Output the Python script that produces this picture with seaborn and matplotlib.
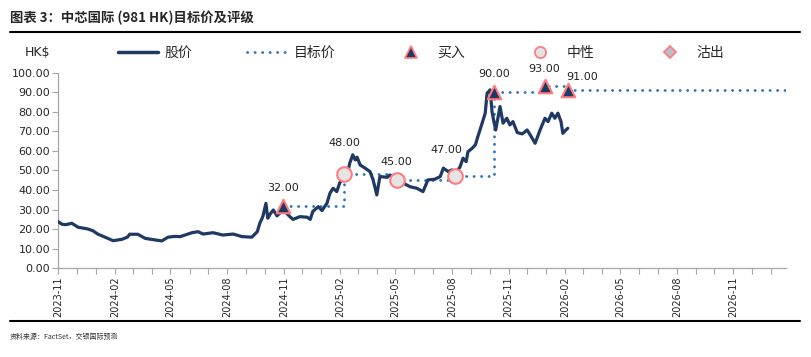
import pandas as pd
import numpy as np
from matplotlib import pyplot as plt
from matplotlib.lines import Line2D
import matplotlib.dates as mdates
import seaborn as sns

# share price (HK$)
price_dates = ['2023-11-01', '2023-11-07', '2023-11-13', '2023-11-23', '2023-12-03',
               '2023-12-19', '2023-12-27', '2024-01-04', '2024-01-16', '2024-01-29',
               '2024-02-12', '2024-02-21', '2024-02-25', '2024-03-09', '2024-03-21',
               '2024-04-06', '2024-04-17', '2024-04-27', '2024-05-08', '2024-05-17',
               '2024-06-05', '2024-06-15', '2024-06-23', '2024-07-09', '2024-07-25',
               '2024-08-11', '2024-08-25', '2024-09-10', '2024-09-19', '2024-09-23',
               '2024-09-28', '2024-10-03', '2024-10-06', '2024-10-10', '2024-10-15',
               '2024-10-21', '2024-10-31', '2024-11-11', '2024-11-16', '2024-11-27',
               '2024-12-09', '2024-12-14', '2024-12-18', '2024-12-27', '2025-01-02',
               '2025-01-10', '2025-01-15', '2025-01-20', '2025-01-26', '2025-01-31',
               '2025-02-05', '2025-02-12', '2025-02-16', '2025-02-21', '2025-02-25',
               '2025-02-28', '2025-03-05', '2025-03-13', '2025-03-21', '2025-03-26',
               '2025-04-01', '2025-04-06', '2025-04-18', '2025-04-22', '2025-05-04',
               '2025-05-14', '2025-05-25', '2025-06-05', '2025-06-15', '2025-06-23',
               '2025-07-04', '2025-07-13', '2025-07-18', '2025-07-26', '2025-08-01',
               '2025-08-06', '2025-08-14', '2025-08-19', '2025-08-24', '2025-08-27',
               '2025-09-03', '2025-09-08', '2025-09-12', '2025-09-19', '2025-09-24',
               '2025-09-27', '2025-10-02', '2025-10-05', '2025-10-08', '2025-10-11',
               '2025-10-15', '2025-10-18', '2025-10-23', '2025-10-29', '2025-11-03',
               '2025-11-08', '2025-11-15', '2025-11-23', '2025-12-01', '2025-12-06',
               '2025-12-14', '2025-12-22', '2025-12-30', '2026-01-04', '2026-01-10',
               '2026-01-15', '2026-01-20', '2026-01-25', '2026-01-28', '2026-02-02',
               '2026-02-05']
price_values = [23.8, 22.5, 22.3, 23.0, 21.0,
                20.1, 19.2, 17.5, 15.9, 14.1,
                14.8, 15.9, 17.4, 17.4, 15.3,
                14.5, 14.0, 15.9, 16.3, 16.2,
                18.2, 18.7, 17.5, 18.2, 17.0,
                17.5, 16.2, 15.9, 18.7, 23.0,
                26.4, 33.2, 25.6, 27.8, 29.8,
                26.8, 29.8, 26.4, 25.0, 26.4,
                26.1, 25.0, 29.0, 31.5, 29.5,
                33.2, 38.4, 40.9, 39.2, 43.8,
                46.0, 47.7, 53.7, 58.0, 55.4,
                56.8, 52.8, 51.2, 49.4, 45.2,
                37.5, 46.9, 46.5, 47.7, 46.0,
                43.5, 41.7, 40.9, 39.2, 45.2,
                45.5, 46.9, 51.2, 49.4, 50.3,
                48.6, 51.7, 56.3, 54.5, 59.6,
                61.4, 63.1, 67.3, 74.2, 79.3,
                89.5, 91.2, 80.1, 75.0, 70.7,
                77.5, 82.7, 74.2, 76.7, 73.3,
                75.0, 69.4, 68.7, 70.7, 68.2,
                63.9, 70.7, 76.7, 75.0, 79.3,
                76.7, 79.3, 75.0, 69.0, 70.7,
                71.6]

# target price changes and ratings
rating_dates = ['2024-10-31', '2025-02-07', '2025-05-03', '2025-08-06',
                '2025-10-08', '2025-12-30', '2026-02-06']
rating_targets = [32.0, 48.0, 45.0, 47.0, 90.0, 93.0, 91.0]
rating_types = ['买入', '中性', '中性', '中性', '买入', '买入', '买入']

axis_end = '2027-01-25'

# label offsets in pixels (layout only)
label_dx = [0, 0, 0, -9, 0, -1, 14]
label_dy = [18, 31, 18, 26, 18, 17, 13]

navy = '#1f3864'
blue = '#2e75b6'
pink = '#ff7c80'
spine_gray = '#a6a6a6'
dots = (0, (0.1, 2.6))

sns.set_style('white')
plt.rcParams['font.family'] = ['DejaVu Sans', 'Noto Sans CJK SC']
cjk = ['Noto Sans CJK SC', 'DejaVu Sans']

price = pd.DataFrame({'date': pd.to_datetime(price_dates), 'price': price_values})
ratings = pd.DataFrame({'date': pd.to_datetime(rating_dates),
                        'target': rating_targets, 'rating': rating_types})
# step line for target price, held to the end of the axis
target = pd.concat([ratings[['date', 'target']],
                    pd.DataFrame({'date': [pd.Timestamp(axis_end)],
                                  'target': [rating_targets[-1]]})],
                   ignore_index=True)

fig = plt.figure(figsize=(8.11, 3.57), dpi=100)
ax = fig.add_axes([0.0719, 0.2485, 0.8971, 0.5479])

sns.lineplot(data=target, x='date', y='target', ax=ax, color=blue, lw=2.0,
             drawstyle='steps-post', linestyle=dots,
             dash_capstyle='round', zorder=2)
sns.lineplot(data=price, x='date', y='price', ax=ax, color=navy, lw=2.3,
             zorder=3)

buy = ratings[ratings.rating == '买入']
neutral = ratings[ratings.rating == '中性']
sns.scatterplot(data=buy, x='date', y='target', ax=ax, marker='^', s=95,
                color=navy, edgecolor=pink, linewidth=1.5, zorder=4)
sns.scatterplot(data=neutral, x='date', y='target', ax=ax, marker='o', s=110,
                color='#e4e4e4', edgecolor=pink, linewidth=1.5, zorder=4)

for i, row in ratings.iterrows():
    ax.annotate('%.2f' % row.target, (row.date, row.target),
                xytext=(label_dx[i], label_dy[i]), textcoords='offset pixels',
                ha='center', va='center', fontsize=8, color='#222222')

ax.set_xlim(pd.Timestamp('2023-11-01'), pd.Timestamp(axis_end))
ax.set_ylim(0, 100)
ax.set_yticks(np.arange(0, 101, 10))
ax.yaxis.set_major_formatter(plt.FuncFormatter(lambda v, p: '%.2f' % v))
ax.xaxis.set_major_locator(mdates.MonthLocator(bymonth=[2, 5, 8, 11]))
ax.xaxis.set_minor_locator(mdates.MonthLocator())
ax.xaxis.set_major_formatter(mdates.DateFormatter('%Y-%m'))
ax.set_xlabel('')
ax.set_ylabel('')
ax.tick_params(axis='x', which='both', direction='out', length=4, width=0.8,
               color=spine_gray, bottom=True)
ax.tick_params(axis='x', which='major', labelsize=7, rotation=90, pad=2)
ax.tick_params(axis='y', direction='out', length=4, width=0.8,
               color=spine_gray, left=True, labelsize=8, pad=2)
for side in ['top', 'right']:
    ax.spines[side].set_visible(False)
for side in ['left', 'bottom']:
    ax.spines[side].set_color(spine_gray)
    ax.spines[side].set_linewidth(0.9)
ax.grid(False)

handles = [
    Line2D([], [], color=navy, lw=2.5),
    Line2D([], [], color=blue, lw=2.0, linestyle=dots, dash_capstyle='round'),
    Line2D([], [], color=navy, marker='^', markersize=8, linestyle='',
           markeredgecolor=pink, markeredgewidth=1.3),
    Line2D([], [], color='#e4e4e4', marker='o', markersize=8, linestyle='',
           markeredgecolor=pink, markeredgewidth=1.3),
    Line2D([], [], color='#b4c0cc', marker='D', markersize=6.5, linestyle='',
           markeredgecolor=pink, markeredgewidth=1.3),
]
fig.legend(handles, ['股价', '目标价', '买入', '中性', '沽出'], ncol=5,
           loc='center left', bbox_to_anchor=(118 / 811, 1 - 53 / 357),
           frameon=False, borderpad=0, borderaxespad=0, handlelength=2.9,
           handletextpad=0.45, columnspacing=3.97,
           prop={'family': cjk, 'size': 10})

fig.text(25 / 811, 1 - 53 / 357, 'HK$', fontsize=9, va='center', ha='left')
fig.text(10 / 811, 1 - 18 / 357, '图表 3：中芯国际 (981 HK)目标价及评级',
         fontsize=9.6, fontweight='bold', family=cjk, va='center', ha='left')
fig.text(10 / 811, 1 - 337 / 357, '资料来源：FactSet，交银国际预测',
         fontsize=5, style='italic', family=cjk, va='center', ha='left',
         color='#333333')
fig.add_artist(Line2D([10 / 811, 800 / 811], [1 - 32 / 357, 1 - 32 / 357],
                      color='black', lw=1.5, transform=fig.transFigure))
fig.add_artist(Line2D([10 / 811, 800 / 811], [1 - 321 / 357, 1 - 321 / 357],
                      color='black', lw=1.5, transform=fig.transFigure))

fig.savefig('out.png', dpi=100)
